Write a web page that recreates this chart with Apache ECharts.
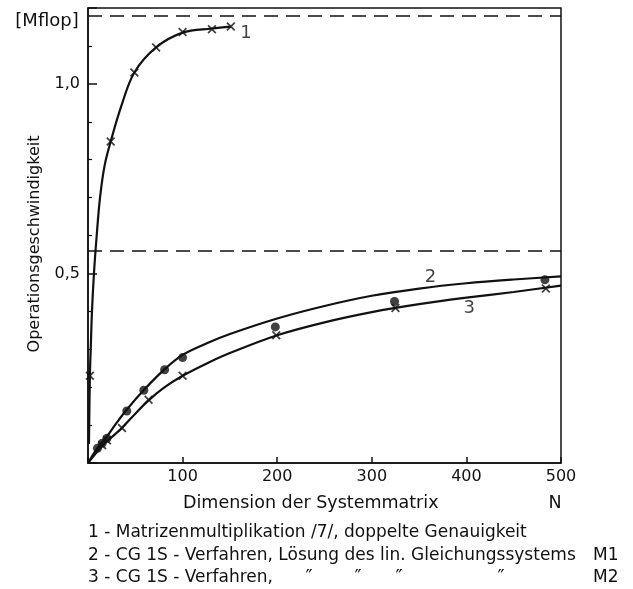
<!DOCTYPE html>
<html>
<head>
<meta charset="utf-8">
<script src="https://cdn.jsdelivr.net/npm/echarts@6/dist/echarts.min.js"></script>
<style>
html, body { margin: 0; padding: 0; background: #fff; }
#chart { width: 633px; height: 589px; }
</style>
</head>
<body>
<div id="chart"></div>
<script>
// Kurve 1: Matrizenmultiplikation (Linienverlauf + Messpunkte x)
const curve1Line = [[1, 0.05], [2, 0.23], [3, 0.31], [4.2, 0.4], [6.3, 0.5], [9.2, 0.6], [12.7, 0.7], [17.6, 0.785], [24, 0.848], [35, 0.94], [49, 1.03], [72, 1.096], [100, 1.135], [131, 1.146], [151, 1.151]]
const curve1Marks = [[2, 0.23], [24, 0.848], [49, 1.03], [72, 1.096], [100, 1.137], [131, 1.144], [151, 1.151]]
// Kurve 2: CG 1S, M1 (Punkte)
const curve2Line = [[0, 0], [10, 0.04], [20, 0.07], [30, 0.105], [40, 0.138], [60, 0.195], [80, 0.245], [100, 0.285], [125, 0.315], [150, 0.34], [200, 0.381], [250, 0.414], [300, 0.441], [350, 0.46], [400, 0.474], [450, 0.484], [500, 0.492]]
const curve2Marks = [[10, 0.039], [15, 0.052], [20, 0.065], [41, 0.137], [59, 0.192], [81, 0.246], [100, 0.278], [198, 0.359], [324, 0.426], [483, 0.483]]
// Kurve 3: CG 1S, M2 (Kreuze)
const curve3Line = [[0, 0], [15, 0.045], [25, 0.068], [36, 0.093], [50, 0.13], [64, 0.165], [80, 0.198], [100, 0.23], [125, 0.262], [150, 0.29], [200, 0.337], [250, 0.371], [300, 0.398], [350, 0.419], [400, 0.436], [450, 0.451], [500, 0.468]]
const curve3Marks = [[15, 0.047], [20, 0.06], [36, 0.092], [64, 0.167], [100, 0.23], [199, 0.337], [325, 0.409], [484, 0.46]]
// gestrichelte Grenzwerte
const peakLevels = [1.175, 0.559]
// Kurvennummern
const curveTags = ['1', '2', '3']
const curveTagAt = [[167, 1.134], [362, 0.49], [403, 0.408]]

const xTickLabels = ['100', '200', '300', '400', '500']
const yLabelValues = [0.5, 1.0]
const yTickLabels = ['0,5', '1,0']

const legendLines = [
  '1 - Matrizenmultiplikation /7/, doppelte Genauigkeit',
  '2 - CG 1S - Verfahren, Lösung des lin. Gleichungssystems',
  '3 - CG 1S - Verfahren,'
]

const FONT = '"DejaVu Sans", sans-serif'
const INK = '#111'
const crossPath = 'path://M0,1.4L1.4,0L5,3.6L8.6,0L10,1.4L6.4,5L10,8.6L8.6,10L5,6.4L1.4,10L0,8.6L3.6,5Z'

const txt = (text, x, y, size, align, extra) => Object.assign({
  type: 'text',
  x, y,
  style: {
    text, x: 0, y: 0,
    font: size + 'px ' + FONT,
    fill: INK,
    align: align, textAlign: align,
    verticalAlign: 'middle', textVerticalAlign: 'middle'
  }
}, extra || {})

const chart = echarts.init(document.getElementById('chart'))

const lineSeries = data => ({
  type: 'line', data, showSymbol: false, smooth: 0.35,
  lineStyle: { color: INK, width: 2.2 }
})

const option = {
  backgroundColor: '#fff',
  animation: false,
  textStyle: { fontFamily: FONT },
  grid: { left: 88, right: 72, top: 8, bottom: 126, show: true, borderColor: INK, borderWidth: 1.5 },
  xAxis: {
    type: 'value', min: 0, max: 500, interval: 100,
    axisLine: { lineStyle: { color: INK, width: 1.5 } },
    axisTick: { inside: true, length: 6, lineStyle: { color: INK, width: 1.5 } },
    axisLabel: {
      color: INK, fontSize: 16, margin: 6,
      formatter: v => {
        const i = Math.round(v / 100) - 1
        return i >= 0 && i < xTickLabels.length ? xTickLabels[i] : ''
      }
    },
    splitLine: { show: false }
  },
  yAxis: {
    type: 'value', min: 0, max: 1.2, interval: 0.5,
    axisLine: { show: true, lineStyle: { color: INK, width: 1.5 } },
    axisTick: { inside: true, length: 9, lineStyle: { color: INK, width: 1.5 } },
    minorTick: { show: true, splitNumber: 5, length: 4, lineStyle: { color: INK, width: 1.2 } },
    axisLabel: {
      color: INK, fontSize: 16, margin: 8,
      formatter: v => {
        const i = yLabelValues.findIndex(t => Math.abs(t - v) < 1e-6)
        return i >= 0 ? yTickLabels[i] : ''
      }
    },
    splitLine: { show: false }
  },
  series: [
    Object.assign(lineSeries(curve1Line), {
      markLine: {
        silent: true, symbol: 'none', label: { show: false },
        lineStyle: { color: INK, width: 1.5, type: [14, 8] },
        data: peakLevels.map(v => ({ yAxis: v }))
      }
    }),
    lineSeries(curve2Line),
    lineSeries(curve3Line),
    { type: 'scatter', data: curve1Marks, symbol: crossPath, symbolSize: 9, itemStyle: { color: INK } },
    { type: 'scatter', data: curve2Marks, symbol: 'circle', symbolSize: 9, itemStyle: { color: INK } },
    { type: 'scatter', data: curve3Marks, symbol: crossPath, symbolSize: 9, itemStyle: { color: INK } },
    {
      type: 'scatter', symbolSize: 0,
      data: curveTags.map((t, i) => ({ name: t, value: curveTagAt[i] })),
      label: { show: true, position: 'inside', formatter: p => p.name, color: INK, fontSize: 18, fontFamily: FONT }
    }
  ],
  graphic: [
    txt('[Mflop]', 47, 21, 18, 'center'),
    txt('Operationsgeschwindigkeit', 35, 244, 16, 'center', { rotation: Math.PI / 2 }),
    txt('Dimension der Systemmatrix', 183, 503, 17.5, 'left'),
    txt('N', 555, 503, 17.5, 'center'),
    txt(legendLines[0], 88, 533, 17, 'left'),
    txt(legendLines[1], 88, 556, 17, 'left'),
    txt('M1', 593, 556, 17, 'left'),
    txt(legendLines[2], 88, 578, 17, 'left'),
    txt('\u2033', 309, 578, 19, 'center'),
    txt('\u2033', 358, 578, 19, 'center'),
    txt('\u2033', 399, 578, 19, 'center'),
    txt('\u2033', 501, 578, 19, 'center'),
    txt('M2', 593, 578, 17, 'left')
  ]
}

chart.setOption(option)
</script>
</body>
</html>
